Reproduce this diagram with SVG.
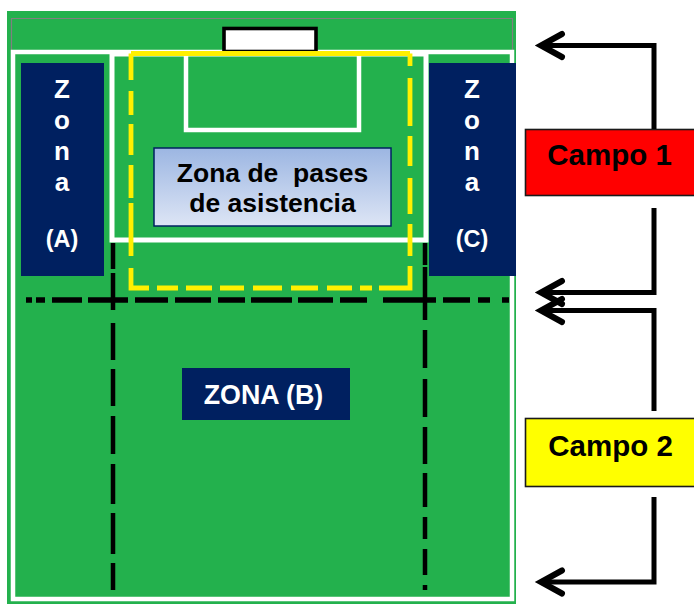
<svg xmlns="http://www.w3.org/2000/svg" width="694" height="604" viewBox="0 0 694 604">
<style>
text{font-family:"Liberation Sans",Arial,sans-serif;font-weight:700;text-anchor:middle;white-space:pre}
.w{fill:#fff}.k{fill:#000}
.line{fill:none;stroke:#fff;stroke-width:4.500}
.navy{fill:#002060}
.blk{fill:none;stroke:#000;stroke-width:4.500}
.conn{fill:none;stroke:#000;stroke-width:5}
.head{fill:none;stroke:#000;stroke-width:6;stroke-linecap:round;stroke-linejoin:miter}
.box{stroke:#1a1a1a;stroke-width:1.600}
</style>
<defs>
<linearGradient id="g" x1="0" y1="0" x2="0" y2="1"><stop offset="0" stop-color="#9cb6e2"/><stop offset="1" stop-color="#dde5f5"/></linearGradient>
</defs>
<g id="pitch">
<rect x="7" y="11" width="509" height="593" fill="#23b14d"/>
<path d="M11.500 52V18.500H512.500V52" fill="none" stroke="#808080" stroke-width="1.200"/>
<rect x="13" y="52" width="499" height="547" class="line"/>
<rect x="112" y="54" width="314" height="186" class="line" style="stroke-width:5"/>
<path d="M186 54V130H359V54" class="line"/>
<rect x="224" y="28.500" width="92" height="23" fill="#fff" stroke="#000" stroke-width="3.600"/>
<path d="M131 53.500H410M131 53.500V80M131 91V115M131 124V155M131 165V198M131 203V256M131 268V288H149M157 288H178M186 288H212M220 288H244M253 288H282M291 288H318M327 288H352M360 288H372M379 288H410V266M410 256V224M410 214V178M410 166V136M410 126V78M410 66V53.500" fill="none" stroke="#fff000" stroke-width="4.800"/>
<path d="M26 300H32M36 300H45M52 300H82M88 300H128M135 300H168M175 300H211M218 300H245M251 300H292M298 300H333M340 300H367M383 300H436M443 300H470M478 300H490M502 300H509" class="blk" style="stroke-width:5.500"/>
<path d="M113 243V269M113 273V310M113 323V360M113 369V406M113 416V454M113 464V504M113 513V554M113 563V590" class="blk"/>
<path d="M425 243V265M425 267V320M425 330V368M425 379V417M425 427V464M425 473V507M425 517V539M425 549V575M425 585V590" class="blk"/>
</g>
<g id="zona-a"><rect x="21" y="63" width="83" height="213" class="navy"/>
<text x="62" y="98" font-size="26" class="w">Z</text><text x="62" y="129" font-size="26" class="w">o</text><text x="62" y="160" font-size="26" class="w">n</text><text x="62" y="191" font-size="26" class="w">a</text>
<text x="62" y="247" font-size="23.500" class="w">(A)</text></g>
<g id="zona-c"><rect x="429" y="63" width="87" height="213" class="navy"/>
<text x="472" y="98" font-size="26" class="w">Z</text><text x="472" y="129" font-size="26" class="w">o</text><text x="472" y="160" font-size="26" class="w">n</text><text x="472" y="191" font-size="26" class="w">a</text>
<text x="472" y="247" font-size="23.500" class="w">(C)</text></g>
<g id="zona-pases"><rect x="154" y="148" width="237" height="78" fill="url(#g)" stroke="#002060" stroke-width="1.500"/>
<text x="272.500" y="182" font-size="26.500" class="k">Zona de  pases</text>
<text x="272.500" y="212" font-size="26.500" class="k">de asistencia</text></g>
<g id="zona-b"><rect x="182" y="368" width="168" height="52" class="navy"/>
<text x="263.500" y="404" font-size="26.800" class="w">ZONA (B)</text></g>
<g id="campo-1"><rect x="525.500" y="129.500" width="170" height="66" fill="#ff0000" class="box"/>
<text x="609.500" y="165" font-size="29.500" class="k">Campo 1</text></g>
<g id="campo-2"><rect x="525.500" y="418.500" width="170" height="68" fill="#ffff00" class="box"/>
<text x="610.500" y="456" font-size="29.500" class="k">Campo 2</text></g>
<g id="connectors">
<path class="conn" d="M654 129V45.500H542"/>
<path class="conn" d="M654 208V292.500H542"/>
<path class="conn" d="M654 411V310.500H542"/>
<path class="conn" d="M654 497V582H542"/>
<path class="head" d="M562 34L541 45.500L562 57"/>
<path class="head" d="M562 281L541 292.500L562 304"/>
<path class="head" d="M562 299L541 310.500L562 322"/>
<path class="head" d="M562 570.500L541 582L562 593.500"/>
</g>
</svg>
